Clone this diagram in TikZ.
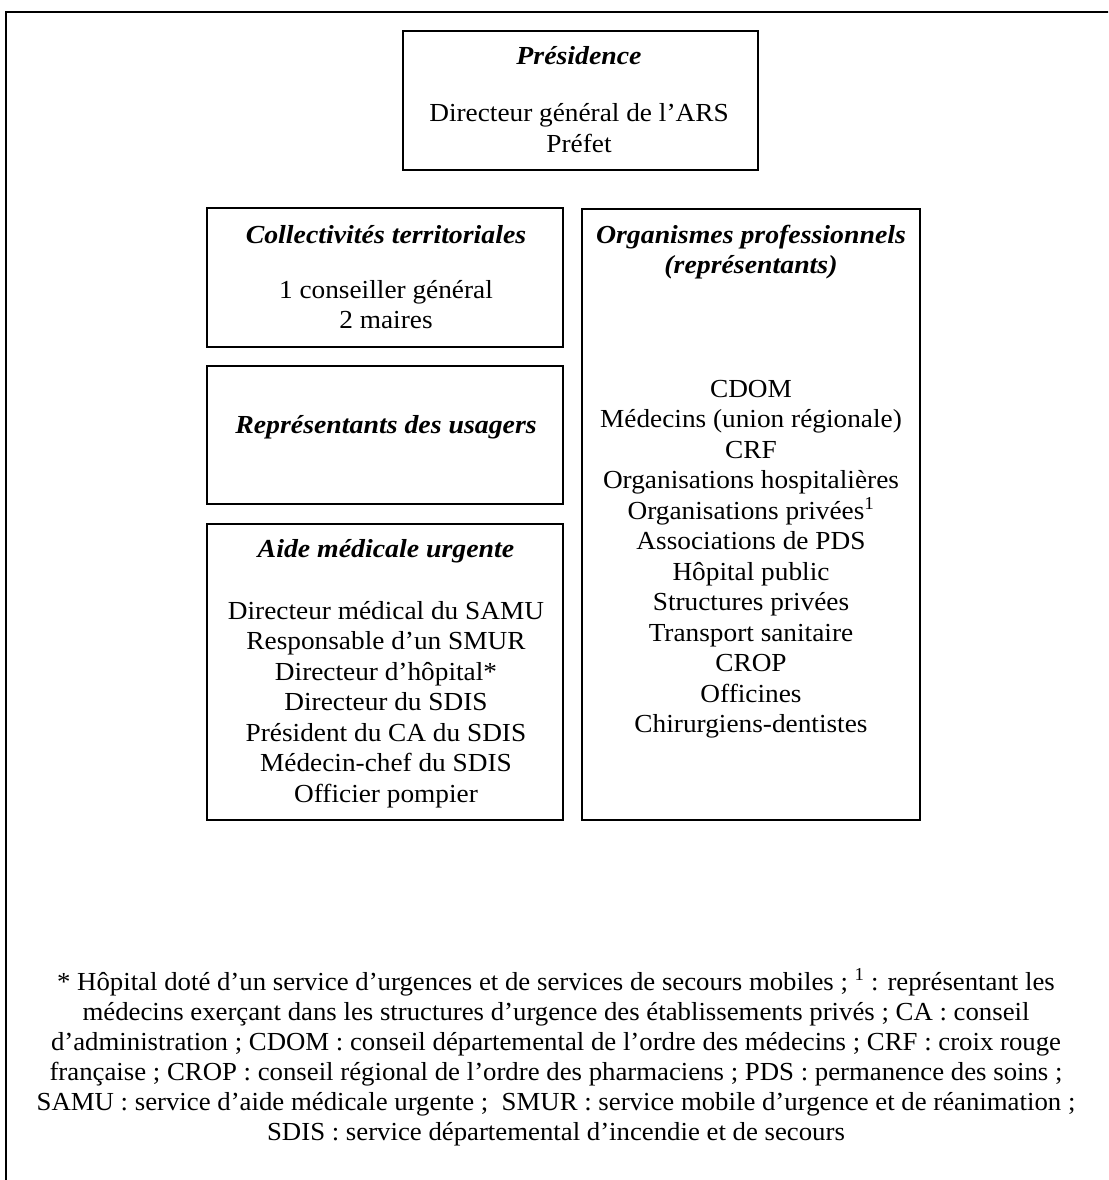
\documentclass[tikz,border=0pt]{standalone}
\usepackage{fontspec}
\setmainfont{Liberation Serif}[FakeStretch=1.05]
\newfontfamily\titlefont{Liberation Serif}[FakeStretch=1.07]
\newfontfamily\notefont{Liberation Serif}[FakeStretch=1.03]
\newcommand{\bodysize}{\fontsize{26}{30.5}\selectfont}
\newcommand{\mylines}[1]{\begin{tabular}[t]{@{}c@{}}#1\end{tabular}}
\tikzset{
  x=1pt, y=-1pt,
  box/.style={draw, line width=1.8pt},
  frame/.style={draw, line width=2.2pt},
  ttl/.style={anchor=base, inner sep=0pt, font=\bodysize\titlefont\bfseries\itshape},
  txt/.style={anchor=base, inner sep=0pt, font=\bodysize},
  note/.style={anchor=base, inner sep=0pt, font=\fontsize{26}{30}\selectfont\notefont},
}
\begin{document}
\begin{tikzpicture}
\useasboundingbox (0,0) rectangle (1108,1180);
\clip (0,0) rectangle (1108,1180);
\draw[frame] (6,12) rectangle (1140,1210);
% boxes
\draw[box] (403,31) rectangle (758,170);
\draw[box] (207,208) rectangle (563,347);
\draw[box] (207,366) rectangle (563,504);
\draw[box] (207,524) rectangle (563,820);
\draw[box] (582,209) rectangle (920,820);
% Présidence
\node[ttl] (presT) at (579,65) {Présidence};
\node[txt] (presB) at (579,122) {\mylines{Directeur général de l’ARS\\Préfet}};
% Collectivités
\node[ttl] (collT) at (386,243) {Collectivités territoriales};
\node[txt] (collB) at (386,298) {\mylines{1 conseiller général\\2 maires}};
% Usagers
\node[ttl] (usaT) at (386,433) {Représentants des usagers};
% Aide médicale urgente
\node[ttl] (aideT) at (386,557) {Aide médicale urgente};
\node[txt] (aideB) at (386,619) {\mylines{Directeur médical du SAMU\\Responsable d’un SMUR\\Directeur d’hôpital*\\Directeur du SDIS\\Président du CA du SDIS\\Médecin-chef du SDIS\\Officier pompier}};
% Organismes
\node[ttl] (orgT) at (751,243) {\mylines{Organismes professionnels\\(représentants)}};
\node[txt] (orgB) at (751,397) {\mylines{CDOM\\Médecins (union régionale)\\CRF\\Organisations hospitalières\\Organisations privées\textsuperscript{1}\\Associations de PDS\\Hôpital public\\Structures privées\\Transport sanitaire\\CROP\\Officines\\Chirurgiens-dentistes}};
% Footnote
\node[note] (foot) at (556,990) {\mylines{* Hôpital doté d’un service d’urgences et de services de secours mobiles ; \textsuperscript{1} : représentant les\\médecins exerçant dans les structures d’urgence des établissements privés ; CA : conseil\\d’administration ; CDOM : conseil départemental de l’ordre des médecins ; CRF : croix rouge\\française ; CROP : conseil régional de l’ordre des pharmaciens ; PDS : permanence des soins ;\\SAMU : service d’aide médicale urgente ;~ SMUR : service mobile d’urgence et de réanimation ;\\SDIS : service départemental d’incendie et de secours}};
\end{tikzpicture}
\end{document}
